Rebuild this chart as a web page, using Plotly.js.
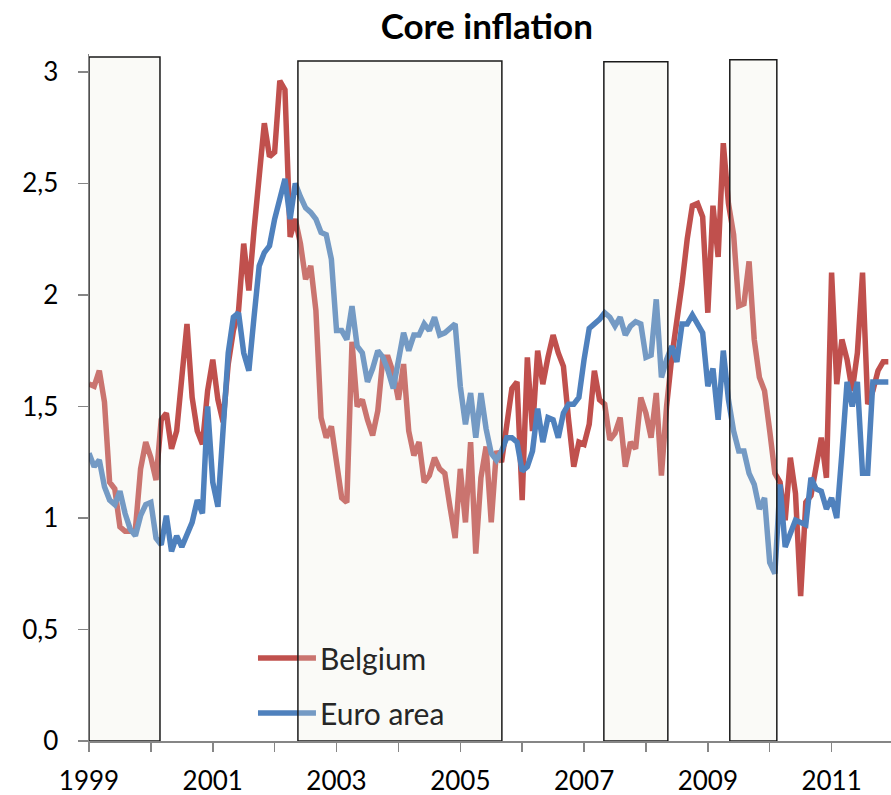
<!DOCTYPE html>
<html>
<head>
<meta charset="utf-8">
<script src="https://cdn.plot.ly/plotly-3.0.1.min.js"></script>
<style>html,body{margin:0;padding:0;background:#fff;}#chart{width:891px;height:795px;}</style>
</head>
<body>
<div id="chart"></div>
<script>
// Monthly core inflation, Jan 1999 .. Dec 2011
const startYear = 1999;
const belgium = [
 1.60,1.59,1.66,1.52,1.16,1.13,0.96,0.94,0.94,0.95,
 1.22,1.34,1.27,1.17,1.44,1.47,1.31,1.39,1.63,1.87,
 1.54,1.39,1.33,1.57,1.71,1.53,1.43,1.69,1.84,1.93,
 2.23,2.02,2.29,2.55,2.77,2.62,2.64,2.96,2.92,2.26,
 2.34,2.23,2.07,2.13,1.93,1.45,1.36,1.41,1.23,1.09,
 1.07,1.79,1.50,1.53,1.44,1.37,1.48,1.72,1.72,1.65,
 1.53,1.69,1.39,1.28,1.34,1.16,1.19,1.27,1.22,1.20,
 1.05,0.91,1.22,0.98,1.34,0.84,1.18,1.32,0.98,1.30,
 1.25,1.44,1.58,1.61,1.08,1.72,1.39,1.75,1.60,1.72,
 1.82,1.74,1.68,1.44,1.23,1.34,1.33,1.42,1.66,1.53,
 1.51,1.35,1.38,1.45,1.23,1.34,1.31,1.54,1.47,1.36,
 1.56,1.19,1.50,1.72,1.88,2.05,2.25,2.40,2.41,2.35,
 1.92,2.40,2.17,2.68,2.41,2.27,1.95,1.96,2.15,1.80,
 1.63,1.57,1.39,1.20,1.16,0.99,1.27,1.11,0.65,1.07,
 1.10,1.23,1.36,1.18,2.10,1.60,1.80,1.71,1.57,1.74,
 2.10,1.51,1.57,1.66,1.70,1.70
];
const euroArea = [
 1.29,1.23,1.26,1.14,1.08,1.06,1.12,1.02,0.95,0.92,
 1.01,1.06,1.07,0.91,0.88,1.01,0.85,0.92,0.87,0.92,
 0.98,1.08,1.02,1.50,1.16,1.05,1.41,1.74,1.90,1.92,
 1.74,1.66,1.90,2.13,2.19,2.22,2.34,2.44,2.52,2.34,
 2.50,2.44,2.39,2.37,2.34,2.28,2.27,2.16,1.84,1.84,
 1.80,1.95,1.77,1.74,1.61,1.67,1.75,1.72,1.66,1.58,
 1.71,1.83,1.75,1.82,1.82,1.87,1.84,1.90,1.82,1.83,
 1.85,1.87,1.59,1.42,1.56,1.36,1.56,1.40,1.29,1.26,
 1.30,1.36,1.36,1.34,1.21,1.23,1.30,1.49,1.34,1.45,
 1.44,1.36,1.47,1.51,1.51,1.54,1.71,1.85,1.87,1.89,
 1.92,1.90,1.86,1.90,1.82,1.86,1.88,1.87,1.72,1.73,
 1.98,1.63,1.71,1.77,1.70,1.87,1.87,1.91,1.87,1.83,
 1.59,1.67,1.44,1.75,1.53,1.39,1.30,1.30,1.20,1.15,
 1.04,1.09,0.80,0.75,1.15,0.87,0.93,0.99,0.98,0.97,
 1.18,1.13,1.12,1.04,1.09,1.00,1.29,1.61,1.50,1.61,
 1.20,1.20,1.61,1.61,1.61,1.61
];
const seriesNames = ['Belgium', 'Euro area'];
const xTickYears = [1999,2000,2001,2002,2003,2004,2005,2006,2007,2008,2009,2010,2011];
const xTickLabels = ['1999','','2001','','2003','','2005','','2007','','2009','','2011'];
const yTickVals = [0,0.5,1,1.5,2,2.5,3];
const yTickLabels = ['0','0,5','1','1,5','2','2,5','3'];
// shaded periods (start, end, box top)
const periodStart = [1999.0, 2002.376, 2007.32, 2009.355];
const periodEnd   = [2000.147, 2005.672, 2008.354, 2010.115];
const periodTop   = [3.067, 3.049, 3.045, 3.054];

const months = belgium.map((_, i) => startYear + i / 12);
const RED = '#C0504D', BLUE = '#4F81BD';
const FONT = 'Lato, "Open Sans", sans-serif';

const traces = [
  {x: months, y: belgium, name: seriesNames[0], type: 'scatter', mode: 'lines',
   line: {color: RED, width: 5.5, shape: 'linear'}, showlegend: false},
  {x: months, y: euroArea, name: seriesNames[1], type: 'scatter', mode: 'lines',
   line: {color: BLUE, width: 5.5, shape: 'linear'}, showlegend: false}
];

const shapes = [];
const legendY = [0.1208, 0.0408];
const legendColors = [RED, BLUE];
legendY.forEach((ly, k) => {
  shapes.push({type: 'line', xref: 'paper', yref: 'paper', x0: 0.2107, x1: 0.283, y0: ly, y1: ly,
    line: {color: legendColors[k], width: 5.5}, layer: 'above'});
});
periodStart.forEach((s, k) => {
  shapes.push({type: 'rect', xref: 'x', yref: 'y', x0: s, x1: periodEnd[k], y0: 0, y1: periodTop[k],
    fillcolor: 'rgba(234,234,222,0.24)', line: {color: '#1a1a1a', width: 1.5}, layer: 'above'});
});

const annotations = legendY.map((ly, k) => ({
  xref: 'paper', yref: 'paper', x: 0.2855, y: ly, xanchor: 'left', yanchor: 'middle',
  text: seriesNames[k], showarrow: false, font: {family: FONT, size: 30, color: '#262626'}
}));

const layout = {
  width: 891, height: 795,
  margin: {l: 89, r: 0, t: 54, b: 54},
  paper_bgcolor: '#ffffff', plot_bgcolor: '#ffffff',
  title: {text: '<b>Core inflation</b>', font: {family: FONT, size: 35, color: '#000'},
    x: 0.496, xref: 'paper', y: 1 - 27/795, yref: 'container', yanchor: 'middle'},
  xaxis: {range: [1999, 2011.96], tickmode: 'array', tickvals: xTickYears, ticktext: xTickLabels,
    ticks: 'outside', ticklen: 9, tickwidth: 1.5, tickcolor: '#868686',
    showline: true, linecolor: '#868686', linewidth: 1.5, showgrid: false, zeroline: false,
    tickfont: {family: FONT, size: 26, color: '#000'}, ticklabelstandoff: 7},
  yaxis: {range: [0, 3.08], tickmode: 'array', tickvals: yTickVals, ticktext: yTickLabels,
    ticks: 'outside', ticklen: 10, tickwidth: 1.5, tickcolor: '#868686',
    showline: true, linecolor: '#868686', linewidth: 1.5, showgrid: false, zeroline: false,
    tickfont: {family: FONT, size: 26, color: '#000'}, ticklabelstandoff: 14},
  shapes: shapes,
  annotations: annotations,
  showlegend: false
};

Plotly.newPlot('chart', traces, layout, {displayModeBar: false, staticPlot: true});
</script>
</body>
</html>
